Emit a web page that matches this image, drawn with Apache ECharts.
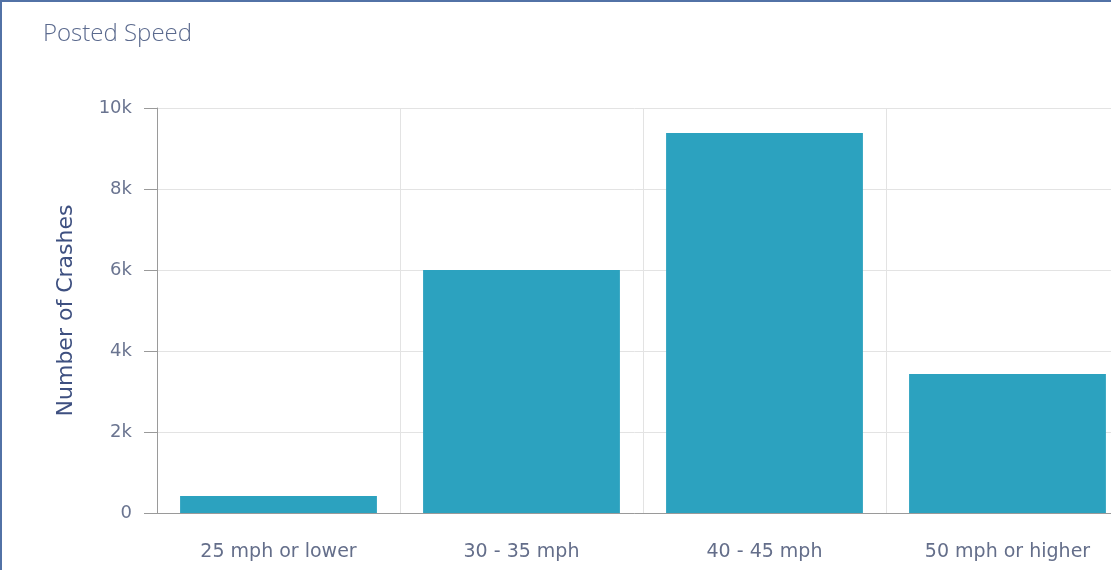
<!DOCTYPE html>
<html>
<head>
<meta charset="utf-8">
<script src="https://cdn.jsdelivr.net/npm/echarts@6/dist/echarts.min.js"></script>
<style>
html,body{margin:0;padding:0;background:#fff;overflow:hidden;}
#chart{width:1111px;height:570px;}
</style>
</head>
<body>
<div id="chart"></div>
<script>
const categories = ['25 mph or lower', '30 - 35 mph', '40 - 45 mph', '50 mph or higher'];
const crashes = [420, 6000, 9380, 3430];
const yTicks = [0, 2000, 4000, 6000, 8000, 10000];

const chart = echarts.init(document.getElementById('chart'));
const font = '"Open Sans", Lato, sans-serif';
const wide = '"DejaVu Sans", Verdana, sans-serif';
chart.setOption({
  animation: false,
  backgroundColor: '#fff',
  title: {
    text: 'Posted Speed',
    left: 38, top: 17,
    textStyle: {color: '#5b6a8e', fontSize: 24, fontWeight: 300, fontFamily: font}
  },
  graphic: [
    {type: 'rect', shape: {x: 0, y: 0, width: 1111, height: 2}, style: {fill: '#5272a6'}},
    {type: 'rect', shape: {x: 0, y: 0, width: 2, height: 570}, style: {fill: '#5272a6'}}
  ],
  grid: {left: 157, top: 108, bottom: 57, right: -18, containLabel: false, outerBoundsMode: 'none'},
  xAxis: {
    type: 'category',
    data: categories,
    axisLine: {lineStyle: {color: '#9a9a9a', width: 1}},
    axisTick: {alignWithLabel: true, length: 10, lineStyle: {color: '#c8c8c8'}},
    axisLabel: {color: '#646e8a', fontSize: 19, margin: 30, fontFamily: wide},
    splitLine: {show: true, lineStyle: {color: '#e3e3e3'}}
  },
  yAxis: {
    type: 'value',
    min: yTicks[0], max: yTicks[yTicks.length - 1], interval: 2000,
    name: 'Number of Crashes',
    nameLocation: 'middle',
    nameGap: 80,
    nameTextStyle: {color: '#3e5080', fontSize: 22, fontFamily: wide},
    axisLine: {show: true, lineStyle: {color: '#9a9a9a'}},
    axisTick: {show: true, length: 13, lineStyle: {color: '#9a9a9a'}},
    axisLabel: {color: '#6a7490', fontSize: 18, margin: 25, fontFamily: wide,
      padding: [9, 0, 0, 0],
      formatter: v => v === 0 ? '0' : (v / 1000) + 'k'},
    splitLine: {show: true, lineStyle: {color: '#e3e3e3'}}
  },
  series: [{
    type: 'bar',
    data: crashes,
    barCategoryGap: '19%',
    itemStyle: {color: '#2ca2bf'}
  }]
});
</script>
</body>
</html>
